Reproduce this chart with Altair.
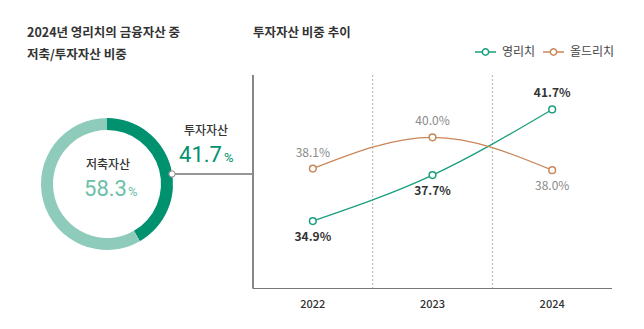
import altair as alt
import pandas as pd

# ---- data ----
years = ["2022", "2023", "2024"]
series_names = ["영리치", "올드리치"]
young_rich = [34.9, 37.7, 41.7]
old_rich = [38.1, 40.0, 38.0]

pie_categories = ["투자자산", "저축자산"]
pie_shares = [41.7, 58.3]

title_left = ["2024년 영리치의 금융자산 중", "저축/투자자산 비중"]
title_right = "투자자산 비중 추이"

# ---- styles ----
FONT = "Noto Sans CJK KR"
NUMFONT = "Roboto"
GREEN = "#1a9e7f"
ORANGE = "#c8875a"
DARK_GREEN = "#00916e"
LIGHT_GREEN = "#8fcbbb"
TXT = "#333333"

rows = []
for i, y in enumerate(years):
    a, b = young_rich[i], old_rich[i]
    rows.append({"year": y, "value": a, "series": series_names[0], "higher": a >= b})
    rows.append({"year": y, "value": b, "series": series_names[1], "higher": b > a})
df = pd.DataFrame(rows)
pie = pd.DataFrame({"category": pie_categories, "share": pie_shares, "order": [0, 1]})
yr = pd.DataFrame({"year": years})

xscale = alt.Scale(type="band", domain=years, range=[253, 612], paddingInner=0, paddingOuter=0)
yscale = alt.Scale(domain=[30.82, 43.8], range=[288, 75], zero=False, nice=False)
X = lambda bp=0.5: alt.X("year:N", scale=xscale, axis=None, bandPosition=bp)
Y = alt.Y("value:Q", scale=yscale, axis=None)
stroke = alt.Stroke("series:N", scale=alt.Scale(domain=series_names, range=[GREEN, ORANGE]), legend=None)

base = alt.Chart(df)

grid = alt.Chart(yr).transform_filter(alt.datum.year != years[0]).mark_rule(
    color="#b0b0b0", strokeDash=[2, 2], strokeWidth=1
).encode(x=X(0), y=alt.value(75), y2=alt.value(288))

yaxis = alt.Chart(yr).mark_rule(color="#777", strokeWidth=1).encode(
    x=alt.value(253), y=alt.value(75), y2=alt.value(288.5))
xaxis = alt.Chart(yr).mark_rule(color="#777", strokeWidth=1).encode(
    x=alt.value(253), x2=alt.value(612), y=alt.value(288.5))

lines = base.mark_line(interpolate="monotone", strokeWidth=1.3).encode(x=X(), y=Y, stroke=stroke)
points = base.mark_point(shape="circle", filled=True, fill="white", size=45, strokeWidth=1.5, opacity=1).encode(
    x=X(), y=Y, stroke=stroke)

label_layers = []
for s, c, w in [(series_names[0], TXT, "bold"), (series_names[1], "#8a8a8a", "normal")]:
    for above in [True, False]:
        label_layers.append(
            base.transform_filter((alt.datum.series == s) & (alt.datum.higher == above))
            .transform_calculate(lbl="format(datum.value, '.1f') + '%'")
            .mark_text(font=FONT, fontSize=12, color=c, fontWeight=w, dy=-16 if above else 16)
            .encode(x=X(), y=Y, text="lbl:N")
        )

xlabels = alt.Chart(yr).mark_text(font=FONT, fontSize=11, color=TXT, fontWeight=500).encode(
    x=X(), y=alt.value(305), text="year:N")

# ---- donut ----
donut = alt.Chart(pie).mark_arc(innerRadius=54, outerRadius=66).encode(
    theta=alt.Theta("share:Q", stack=True),
    fill=alt.Fill("category:N", scale=alt.Scale(domain=pie_categories, range=[DARK_GREEN, LIGHT_GREEN]), legend=None),
    order=alt.Order("order:Q"),
    x=alt.value(107), y=alt.value(184),
)

connector = alt.Chart(yr).mark_rule(color="#888", strokeWidth=1).encode(
    x=alt.value(172), x2=alt.value(253), y=alt.value(174))
dot = alt.Chart(yr).transform_filter(alt.datum.year == years[0]).mark_point(
    shape="circle", filled=True, fill="white", stroke="#888", strokeWidth=1, size=40, opacity=1
).encode(x=alt.value(172), y=alt.value(174))

pie_sav = alt.Chart(pie).transform_filter(alt.datum.category == pie_categories[1])
pie_inv = alt.Chart(pie).transform_filter(alt.datum.category == pie_categories[0])

sav_name = pie_sav.mark_text(font=FONT, fontSize=12, color=TXT, fontWeight=500).encode(
    x=alt.value(108), y=alt.value(165), text="category:N")
sav_val = pie_sav.mark_text(font=NUMFONT, fontSize=22, color="#6cc0a8", align="right").encode(
    x=alt.value(127), y=alt.value(189), text=alt.Text("share:Q", format=".1f"))
sav_pct = pie_sav.mark_text(font=NUMFONT, fontSize=13, color="#6cc0a8", align="left").encode(
    x=alt.value(128), y=alt.value(192), text=alt.value("%"))

inv_name = pie_inv.mark_text(font=FONT, fontSize=12, color=TXT, fontWeight=500, align="left").encode(
    x=alt.value(184), y=alt.value(131), text="category:N")
inv_val = pie_inv.mark_text(font=NUMFONT, fontSize=22, color=DARK_GREEN, align="right").encode(
    x=alt.value(222), y=alt.value(155), text=alt.Text("share:Q", format=".1f"))
inv_pct = pie_inv.mark_text(font=NUMFONT, fontSize=13, color=DARK_GREEN, align="left").encode(
    x=alt.value(224), y=alt.value(158), text=alt.value("%"))

# ---- titles ----
one_row = alt.Chart(yr).transform_filter(alt.datum.year == years[0])
t1 = one_row.mark_text(font=FONT, fontSize=12.5, fontWeight="bold", color=TXT, align="left").encode(
    x=alt.value(27), y=alt.value(33), text=alt.value(title_left[0]))
t2 = one_row.mark_text(font=FONT, fontSize=12.5, fontWeight="bold", color=TXT, align="left").encode(
    x=alt.value(27), y=alt.value(55), text=alt.value(title_left[1]))
t3 = one_row.mark_text(font=FONT, fontSize=12.5, fontWeight="bold", color=TXT, align="left").encode(
    x=alt.value(253), y=alt.value(33), text=alt.value(title_right))

# ---- legend ----
leg = []
for name, col, x0 in [(series_names[0], GREEN, 475), (series_names[1], ORANGE, 543)]:
    leg.append(one_row.mark_rule(color=col, strokeWidth=1.5).encode(
        x=alt.value(x0), x2=alt.value(x0 + 21), y=alt.value(52)))
    leg.append(one_row.mark_point(shape="circle", filled=True, fill="white", stroke=col,
                                  strokeWidth=1.5, size=40, opacity=1).encode(
        x=alt.value(x0 + 10.5), y=alt.value(52)))
    leg.append(one_row.mark_text(font=FONT, fontSize=12, color="#444", align="left").encode(
        x=alt.value(x0 + 27), y=alt.value(52), text=alt.value(name)))

chart = alt.layer(
    grid, yaxis, xaxis, lines, points, *label_layers, xlabels,
    donut, connector, dot, sav_name, sav_val, sav_pct, inv_name, inv_val, inv_pct,
    t1, t2, t3, *leg
).resolve_scale(fill="independent", stroke="independent").properties(
    width=644, height=329, autosize=alt.AutoSizeParams(type="none"), padding=0,
    background="white"
).configure_view(stroke=None)

chart.save("out.html", embed_options={"renderer": "svg", "actions": False})
